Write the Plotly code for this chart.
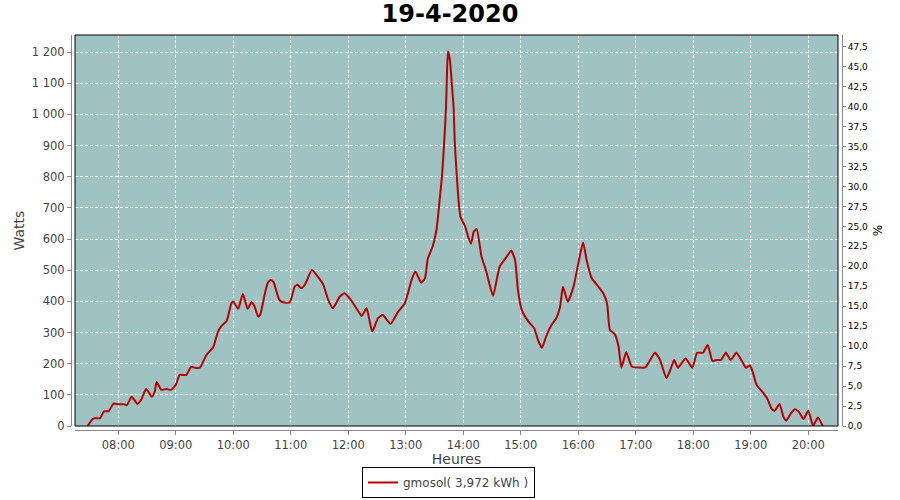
import plotly.graph_objects as go

DATE = "2020-04-19"
chart_title = "19-4-2020"
series_name = "gmosol( 3,972 kWh )"
x_title = "Heures"
y_title = "Watts"
y2_title = "%"

times = [
    "07:28", "07:33", "07:35", "07:41", "07:45", "07:50", "07:55", "08:00", "08:06", "08:09",
    "08:14", "08:20", "08:24", "08:29", "08:35", "08:38", "08:40", "08:45", "08:50", "08:55",
    "09:00", "09:04", "09:11", "09:16", "09:20", "09:25", "09:32", "09:39", "09:44", "09:48",
    "09:53", "09:58", "10:00", "10:05", "10:10", "10:15", "10:19", "10:22", "10:26", "10:28",
    "10:33", "10:36", "10:39", "10:42", "10:48", "10:52", "10:59", "11:04", "11:07", "11:11",
    "11:15", "11:22", "11:28", "11:34", "11:39", "11:44", "11:51", "11:56", "12:00", "12:05",
    "12:10", "12:14", "12:19", "12:22", "12:25", "12:31", "12:36", "12:44", "12:52", "12:59",
    "13:06", "13:10", "13:16", "13:20", "13:23", "13:28", "13:32", "13:36", "13:38", "13:40",
    "13:42", "13:43", "13:44", "13:46", "13:48", "13:50", "13:51", "13:53", "13:55", "13:57",
    "14:02", "14:05", "14:08", "14:11", "14:14", "14:19", "14:24", "14:31", "14:38", "14:45",
    "14:50", "14:54", "14:57", "15:01", "15:08", "15:14", "15:18", "15:22", "15:27", "15:32",
    "15:37", "15:41", "15:44", "15:49", "15:55", "16:00", "16:05", "16:09", "16:14", "16:21",
    "16:26", "16:30", "16:33", "16:38", "16:42", "16:45", "16:50", "16:56", "17:03", "17:10",
    "17:15", "17:20", "17:25", "17:32", "17:36", "17:40", "17:44", "17:52", "17:59", "18:04",
    "18:10", "18:15", "18:20", "18:25", "18:29", "18:34", "18:39", "18:45", "18:52", "18:55",
    "18:59", "19:02", "19:06", "19:12", "19:17", "19:22", "19:25", "19:30", "19:34", "19:37",
    "19:42", "19:46", "19:50", "19:55", "20:00", "20:05", "20:10", "20:15",
]
watts = [
    0, 22, 25, 25, 47, 48, 72, 70, 70, 67,
    94, 71, 85, 119, 94, 110, 141, 116, 119, 116,
    132, 164, 164, 190, 187, 187, 228, 253, 303, 322,
    337, 394, 400, 376, 424, 376, 398, 385, 351, 356,
    426, 460, 469, 462, 405, 397, 397, 447, 453, 442,
    455, 501, 480, 453, 405, 378, 415, 426, 415, 394,
    370, 353, 378, 340, 303, 346, 356, 328, 367, 394,
    469, 496, 460, 474, 538, 576, 629, 747, 811, 908,
    1025, 1132, 1202, 1175, 1100, 1015, 918, 811, 726, 672,
    640, 608, 585, 624, 632, 544, 496, 418, 512, 542,
    563, 533, 437, 373, 335, 314, 276, 251, 292, 324,
    346, 383, 447, 399, 447, 522, 589, 528, 474, 447,
    426, 394, 308, 295, 255, 188, 237, 190, 188, 188,
    212, 235, 214, 153, 180, 212, 187, 217, 187, 235,
    235, 260, 209, 212, 212, 235, 212, 235, 201, 187,
    194, 174, 132, 110, 89, 54, 49, 71, 30, 17,
    41, 54, 46, 22, 49, 1, 27, 0,
]

x_vals = [f"{DATE} {t}" for t in times]

AXIS_GREY = "#888888"
TEXT_GREY = "#444444"
FONT = "DejaVu Sans"

FIG_W, FIG_H = 900, 500
M_L, M_R, M_T, M_B = 75, 62, 35, 70
plot_h = FIG_H - M_T - M_B

fig = go.Figure()
fig.add_trace(go.Scatter(
    x=x_vals, y=watts, mode="lines", name=series_name,
    line=dict(color="#b80000", width=2, shape="spline", smoothing=0.5),
    showlegend=True,
))
# helper trace so the right-hand % axis is drawn
fig.add_trace(go.Scatter(
    x=[x_vals[0]], y=[None], yaxis="y2", mode="lines",
    showlegend=False, hoverinfo="skip",
))

fig.update_layout(
    width=FIG_W, height=FIG_H,
    paper_bgcolor="white",
    plot_bgcolor="#9ec3c2",
    separators=", ",
    font=dict(family=FONT, color=TEXT_GREY),
    margin=dict(l=M_L, r=M_R, t=M_T, b=M_B, autoexpand=False),
    title=dict(text=f"<b>{chart_title}</b>", x=0.5, xref="container", xanchor="center",
               y=1 - 14 / FIG_H, yref="container", yanchor="middle",
               font=dict(family=FONT, size=24, color="black")),
    showlegend=True,
    legend=dict(orientation="h", xref="container", x=448.5 / FIG_W, xanchor="center",
                yref="container", y=2 / FIG_H, yanchor="bottom",
                bordercolor="black", borderwidth=1, bgcolor="white", itemwidth=30,
                font=dict(family=FONT, size=12, color=TEXT_GREY)),
    xaxis=dict(
        type="date", automargin=False,
        range=[f"{DATE} 07:14:48", f"{DATE} 20:31:00"],
        anchor="free", position=0,
        tick0=f"{DATE} 08:00", dtick=3600000, tickformat="%H:%M",
        showgrid=True, gridcolor="white", gridwidth=1, griddash="3px,2px",
        showline=True, linecolor=AXIS_GREY, linewidth=1,
        ticks="outside", ticklen=4, tickcolor=AXIS_GREY,
        tickfont=dict(family=FONT, size=11.5, color=TEXT_GREY),
        title=dict(text=x_title, font=dict(family=FONT, size=14, color=TEXT_GREY), standoff=4),
        zeroline=False,
    ),
    yaxis=dict(
        domain=[4 / plot_h, 1], automargin=False,
        range=[0, 1255], dtick=100, tick0=0, tickformat=",d",
        anchor="free", position=0, shift=-4,
        showgrid=True, gridcolor="white", gridwidth=1, griddash="3px,2px",
        showline=True, linecolor=AXIS_GREY, linewidth=1,
        ticks="outside", ticklen=4, tickcolor=AXIS_GREY,
        tickfont=dict(family=FONT, size=11.5, color=TEXT_GREY),
        title=dict(text=y_title, font=dict(family=FONT, size=14, color=TEXT_GREY), standoff=2),
        zeroline=False,
    ),
    yaxis2=dict(
        overlaying="y", side="right", automargin=False,
        range=[0, 48.96], dtick=2.5, tick0=0, tickformat=".1f",
        anchor="free", position=1, shift=4,
        showgrid=False, zeroline=False,
        showline=True, linecolor=AXIS_GREY, linewidth=1,
        ticks="outside", ticklen=3, tickcolor=AXIS_GREY,
        tickfont=dict(family=FONT, size=9, color="black"),
        title=dict(text=y2_title, font=dict(family=FONT, size=12, color="black"), standoff=6),
    ),
)

# black border around the plotting area
fig.add_shape(type="rect", xref="x domain", yref="y domain", x0=0, x1=1, y0=0, y1=1,
              line=dict(color="black", width=1), fillcolor="rgba(0,0,0,0)", layer="above")

# remove the browser's default 8px page margin so the chart sits at the page origin
fig.write_html("out.html", config={"displayModeBar": False},
               post_script="document.body.style.margin='0';")
